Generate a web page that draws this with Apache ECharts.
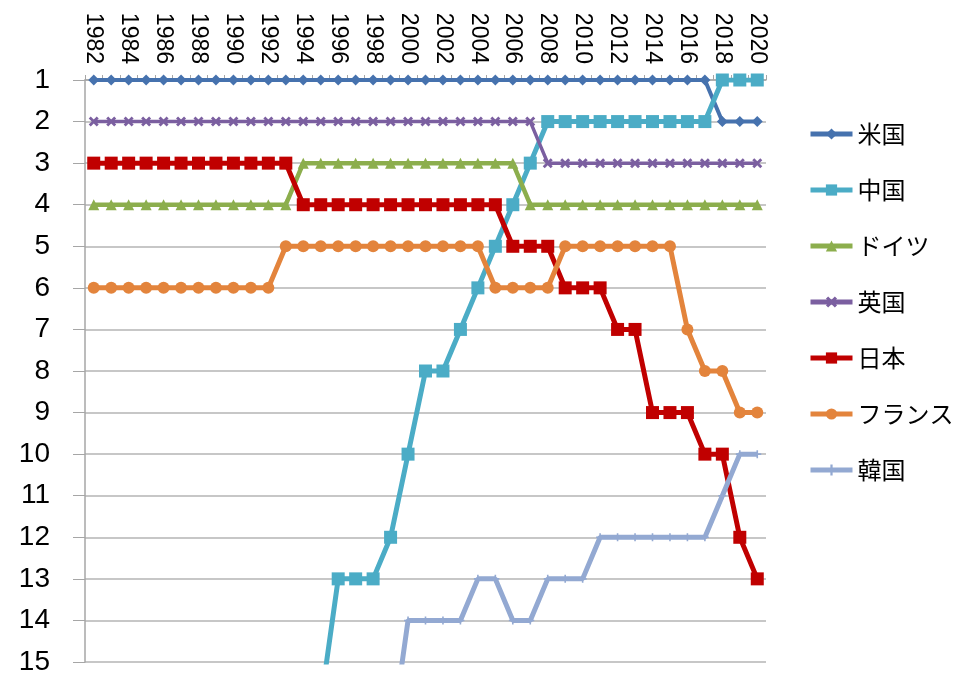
<!DOCTYPE html>
<html>
<head>
<meta charset="utf-8">
<script src="https://cdn.jsdelivr.net/npm/echarts@6/dist/echarts.min.js"></script>
<style>html,body{margin:0;padding:0;background:#fff;}#c{width:959px;height:676px;}</style>
</head>
<body>
<div id="c"></div>
<script>
const years = [];
for (let y = 1982; y <= 2020; y++) years.push(String(y));

const seriesNames = ['米国', '中国', 'ドイツ', '英国', '日本', 'フランス', '韓国'];

// ranks 1982..2020
const usa = [1,1,1,1,1,1,1,1,1,1,1,1,1,1,1,1,1,1,1,1,1,1,1,1,1,1,1,1,1,1,1,1,1,1,1,1,2,2,2];
const china = [null,null,null,null,null,null,null,null,null,null,null,null,null,16,13,13,13,12,10,8,8,7,6,5,4,3,2,2,2,2,2,2,2,2,2,2,1,1,1];
const germany = [4,4,4,4,4,4,4,4,4,4,4,4,3,3,3,3,3,3,3,3,3,3,3,3,3,4,4,4,4,4,4,4,4,4,4,4,4,4,4];
const uk = [2,2,2,2,2,2,2,2,2,2,2,2,2,2,2,2,2,2,2,2,2,2,2,2,2,2,3,3,3,3,3,3,3,3,3,3,3,3,3];
const japan = [3,3,3,3,3,3,3,3,3,3,3,3,4,4,4,4,4,4,4,4,4,4,4,4,5,5,5,6,6,6,7,7,9,9,9,10,10,12,13];
const france = [6,6,6,6,6,6,6,6,6,6,6,5,5,5,5,5,5,5,5,5,5,5,5,6,6,6,6,5,5,5,5,5,5,5,7,8,8,9,9];
const korea = [null,null,null,null,null,null,null,null,null,null,null,null,null,null,null,null,null,17,14,14,14,14,13,13,14,14,13,13,13,12,12,12,12,12,12,12,11,10,10];

const yTicks = [1,2,3,4,5,6,7,8,9,10,11,12,13,14,15];

const xShape = 'path://M0,2 L2,0 L5,3 L8,0 L10,2 L7,5 L10,8 L8,10 L5,7 L2,10 L0,8 L3,5 Z';
const plusShape = 'path://M4,0 L6,0 L6,4 L10,4 L10,6 L6,6 L6,10 L4,10 L4,6 L0,6 L0,4 L4,4 Z';

function mk(name, data, color, symbol, size, width) {
  return {
    name: name, type: 'line', data: data,
    symbol: symbol, symbolSize: size, showAllSymbol: true,
    lineStyle: { color: color, width: width },
    itemStyle: { color: color },
    clip: true, animation: false, connectNulls: false
  };
}

const chart = echarts.init(document.getElementById('c'));
chart.setOption({
  backgroundColor: '#ffffff',
  animation: false,
  grid: { left: 85, right: 193, top: 80, bottom: 12 },
  legend: {
    orient: 'vertical', left: 803, top: 117,
    itemWidth: 42, itemHeight: 14, itemGap: 32,
    lineStyle: { width: 5 },
    textStyle: { fontSize: 24, color: '#000', fontFamily: 'Noto Sans CJK JP' },
    data: seriesNames
  },
  xAxis: {
    type: 'category', position: 'top', data: years, boundaryGap: true,
    axisLine: { lineStyle: { color: '#a6a6a6', width: 1.5 } },
    axisTick: { show: true, interval: 0, length: 5, lineStyle: { color: '#a6a6a6' } },
    axisLabel: { interval: 1, rotate: 90, margin: 16, fontSize: 23, color: '#000', fontFamily: 'Liberation Sans' },
    splitLine: { show: false }
  },
  yAxis: {
    type: 'value', min: 1, max: 15, interval: 1, inverse: true,
    axisLine: { show: true, lineStyle: { color: '#a6a6a6', width: 1.5 } },
    axisTick: { show: true, length: 12, lineStyle: { color: '#a6a6a6' } },
    axisLabel: { margin: 35, fontSize: 28, color: '#000', fontFamily: 'Liberation Sans',
      formatter: function (v) { return yTicks.indexOf(v) >= 0 ? String(v) : ''; } },
    splitLine: { show: true, lineStyle: { color: '#b4b4b4', width: 1.5 } }
  },
  series: [
    mk('米国', usa, '#4672ae', 'diamond', 11, 4),
    mk('中国', china, '#4bacc6', 'rect', 13, 5),
    mk('ドイツ', germany, '#8cae4d', 'triangle', 11, 4.5),
    mk('英国', uk, '#7b5fa0', xShape, 10, 3.5),
    mk('日本', japan, '#c00000', 'rect', 13, 5),
    mk('フランス', france, '#e3843c', 'circle', 12, 5),
    mk('韓国', korea, '#93a9d2', plusShape, 8, 5)
  ]
});
</script>
</body>
</html>
